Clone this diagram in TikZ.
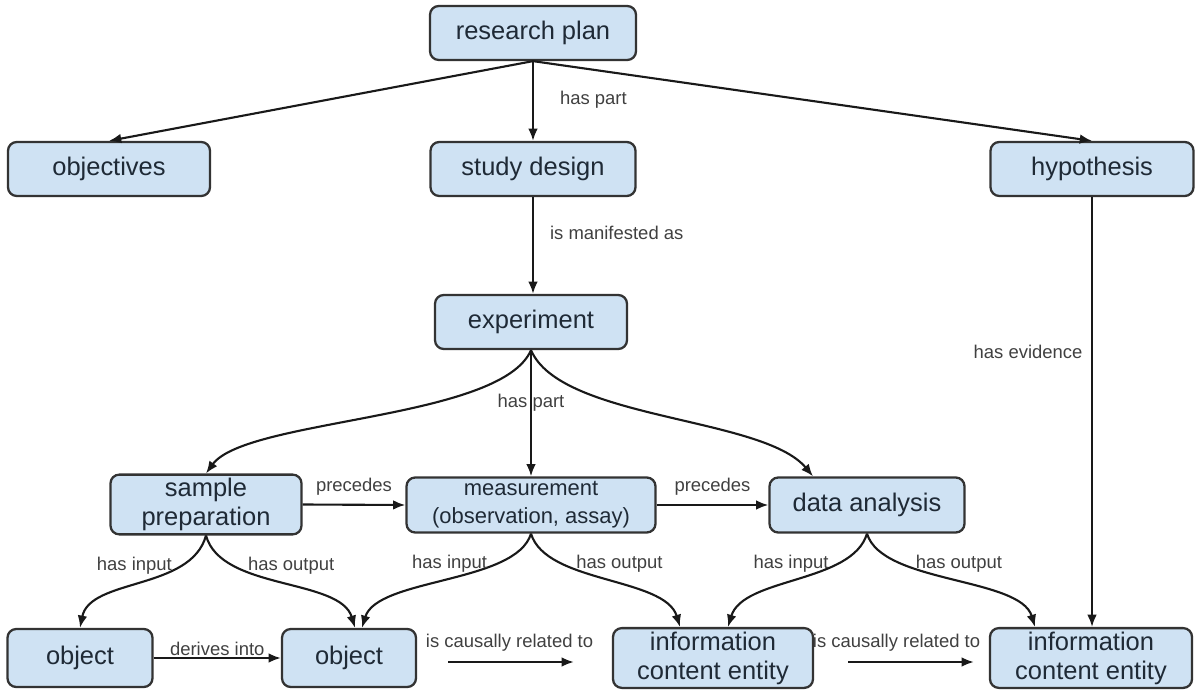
\documentclass[tikz,border=0pt]{standalone}
\usepackage{fontspec}
\setmainfont{Liberation Sans}
\usetikzlibrary{arrows.meta}
\definecolor{boxfill}{HTML}{CFE2F3}
\definecolor{boxline}{HTML}{333333}
\definecolor{boxtext}{HTML}{1F2A36}
\tikzset{every picture/.style={>={Latex[length=7pt,width=5.5pt]}}}

\begin{document}
\begin{tikzpicture}[concept/.style={draw=boxline, line width=1.3pt, fill=boxfill, rounded corners=5pt,
    minimum height=1.08cm, align=center, text=boxtext, inner sep=2pt,
    font=\fontsize{14.5}{16.5}\selectfont},
  rel/.style={->, line width=1.2pt, black!90},
  lbl/.style={font=\fontsize{10.5}{12}\selectfont, text=black!75, inner sep=2pt}]
\useasboundingbox (0,0) rectangle (24,13.94);

\node[concept, minimum width=4.12cm] (plan) at (10.66,13.28) {research plan};
\node[concept, minimum width=4.04cm] (obj) at (2.18,10.56) {objectives};
\node[concept, minimum width=4.1cm] (design) at (10.66,10.56) {study design};
\node[concept, minimum width=4.06cm] (hyp) at (21.84,10.56) {hypothesis};
\node[concept, minimum width=3.84cm] (exp) at (10.62,7.5) {experiment};
\node[concept, minimum width=3.82cm, minimum height=1.1cm] (prep) at (4.12,3.85) {sample\\preparation};
\node[concept, minimum width=4.98cm, minimum height=1.1cm, font=\fontsize{12.5}{16}\selectfont] (meas) at (10.62,3.84) {measurement\\(observation, assay)};
\node[concept, minimum width=3.9cm, minimum height=1.1cm] (ana) at (17.34,3.84) {data analysis};
\node[concept, minimum width=2.9cm, minimum height=1.16cm] (objA) at (1.6,0.78) {object};
\node[concept, minimum width=2.68cm, minimum height=1.16cm] (objB) at (6.98,0.78) {object};
\node[concept, minimum width=4cm, minimum height=1.16cm] (iceA) at (14.26,0.78) {information\\content entity};
\node[concept, minimum width=4.04cm, minimum height=1.16cm] (iceB) at (21.82,0.78) {information\\content entity};

\draw[rel] (plan.south) -- (obj.north);
\draw[rel] (plan.south) -- (design.north) node[lbl, pos=0.48, right=0.45cm] {has part};
\draw[rel] (plan.south) -- (hyp.north);
\draw[rel] (design.south) -- (design.south |- exp.north) node[lbl, pos=0.37, right=0.25cm] {is manifested as};
\draw[rel] (hyp.south) -- (hyp.south |- iceB.north) node[lbl, pos=0.36, left=0.1cm] {has evidence};

\draw[rel] (exp.south) .. controls +(-0.6,-1.4) and +(0.8,1.1) .. (prep.north);
\draw[rel] (exp.south) -- (meas.north) node[lbl, pos=0.42, inner sep=0pt] {has part};
\draw[rel] (exp.south) .. controls +(0.6,-1.4) and +(-1.0,1.2) .. ([xshift=-1.08cm]ana.north);

\draw[rel] (prep.east) -- (meas.west) node[lbl, midway, above=0.1cm] {precedes};
\draw[rel] (meas.east) -- (ana.west) node[lbl, midway, above=0.1cm] {precedes};

\draw[rel] (prep.south) .. controls +(-0.3,-1.1) and +(0.2,1.0) .. (objA.north) node[lbl, pos=0.25, left=0.1cm] {has input};
\draw[rel] (prep.south) .. controls +(0.3,-1.1) and +(-0.3,1.0) .. ([xshift=0.12cm]objB.north) node[lbl, pos=0.25, right=0.2cm] {has output};
\draw[rel] (meas.south) .. controls +(-0.3,-1.0) and +(0.3,1.0) .. ([xshift=0.26cm]objB.north) node[lbl, pos=0.27, left=0.1cm] {has input};
\draw[rel] (meas.south) .. controls +(0.3,-1.0) and +(-0.3,1.0) .. ([xshift=-0.66cm]iceA.north) node[lbl, pos=0.27, right=0.2cm] {has output};
\draw[rel] (ana.south) .. controls +(-0.3,-1.0) and +(0.3,1.0) .. ([xshift=0.3cm]iceA.north) node[lbl, pos=0.27, left=0.1cm] {has input};
\draw[rel] (ana.south) .. controls +(0.3,-1.0) and +(-0.3,1.0) .. ([xshift=-1.12cm]iceB.north) node[lbl, pos=0.27, right=0.2cm] {has output};

\draw[rel] (objA.east) -- (objB.west) node[lbl, midway, above=-0.05cm] {derives into};
\draw[rel, shorten <=0.62cm, shorten >=0.76cm] ([yshift=-0.08cm]objB.east) -- ([yshift=-0.08cm]iceA.west) node[lbl, midway, above=0.12cm, xshift=-0.1cm] {is causally related to};
\draw[rel, shorten <=0.68cm, shorten >=0.3cm] ([yshift=-0.08cm]iceA.east) -- ([yshift=-0.08cm]iceB.west) node[lbl, midway, above=0.12cm, xshift=-0.1cm] {is causally related to};
\end{tikzpicture}
\end{document}
